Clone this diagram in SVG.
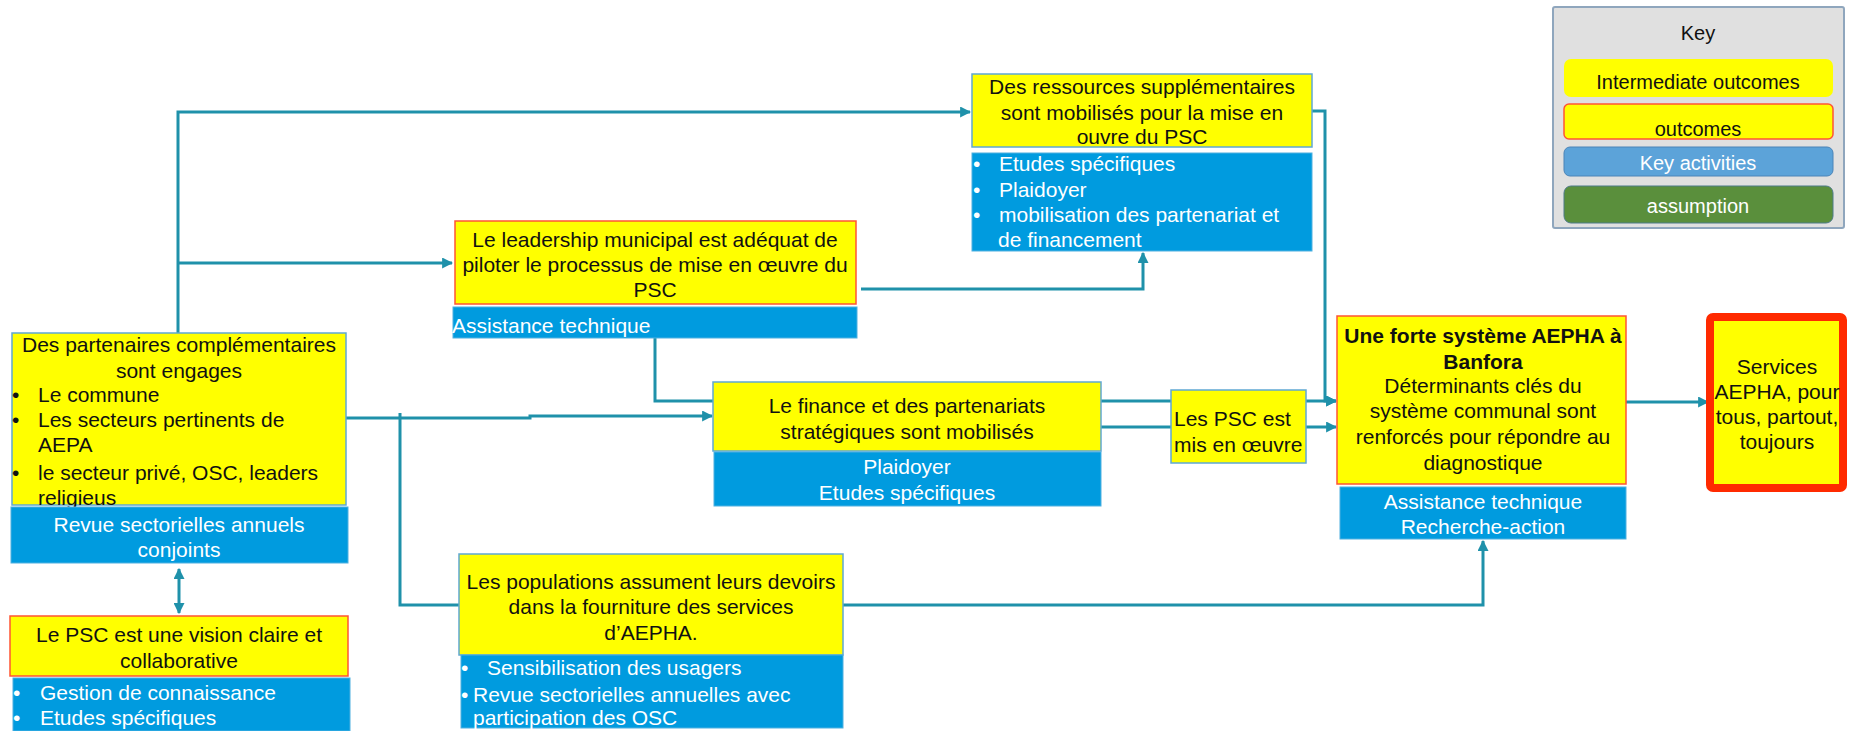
<svg xmlns="http://www.w3.org/2000/svg" width="1854" height="731" viewBox="0 0 1854 731">
<style>
text{font-family:"Liberation Sans",Arial,sans-serif;font-size:21px;fill:#111}
.c{text-anchor:middle}
.w{fill:#fff}
.b{font-weight:bold}
.y{fill:#ffff00;stroke:#5fa8d3;stroke-width:1.5}
.yr{fill:#ffff00;stroke:#ff5533;stroke-width:1.5}
.bl{fill:#009bdf;stroke:#4fb0e0;stroke-width:1}
.ln{fill:none;stroke:#1f91aa;stroke-width:3}
.k{font-size:20px}
</style>
<defs>
<marker id="ah" viewBox="0 0 10 10" refX="9" refY="5" markerWidth="11" markerHeight="11" markerUnits="userSpaceOnUse" orient="auto-start-reverse">
<path d="M0 0 L10 5 L0 10 z" fill="#1f91aa"/>
</marker>
</defs>
<rect width="1854" height="731" fill="#fff"/>
<g id="connectors">
<path class="ln" d="M178 333 V112 H970" marker-end="url(#ah)"/>
<path class="ln" d="M178 263 H452" marker-end="url(#ah)"/>
<path class="ln" d="M861 289 H1143 V253" marker-end="url(#ah)"/>
<path class="ln" d="M1312 111 H1325 V401 H1336" marker-end="url(#ah)"/>
<path class="ln" d="M346 418 H530 V416 H712" marker-end="url(#ah)"/>
<path class="ln" d="M400 413 V605 H459"/>
<path class="ln" d="M843 605 H1483 V541" marker-end="url(#ah)"/>
<path class="ln" d="M655 338 V401 H713"/>
<path class="ln" d="M1101 401 H1336" marker-end="url(#ah)"/>
<path class="ln" d="M1101 427 H1336" marker-end="url(#ah)"/>
<path class="ln" d="M1626 402 H1708" marker-end="url(#ah)"/>
<path class="ln" d="M179 569 V613" marker-start="url(#ah)" marker-end="url(#ah)"/>
</g>
<g id="partenaires">
<rect class="y" x="12" y="333" width="334" height="172"/>
<text class="c" x="179" y="352">Des partenaires complémentaires</text>
<text class="c" x="179" y="378">sont engages</text>
<text x="12" y="402">•</text><text x="38" y="402">Le commune</text>
<text x="12" y="427">•</text><text x="38" y="427">Les secteurs pertinents de</text>
<text x="38" y="452">AEPA</text>
<text x="12" y="480">•</text><text x="38" y="480">le secteur privé, OSC, leaders</text>
<text x="38" y="505">religieus</text>
<rect class="bl" x="11" y="507" width="337" height="56"/>
<text class="c w" x="179" y="532">Revue sectorielles annuels</text>
<text class="c w" x="179" y="557">conjoints</text>
</g>
<g id="psc-vision">
<rect class="yr" x="10" y="616" width="338" height="60"/>
<text class="c" x="179" y="642">Le PSC est une vision claire et</text>
<text class="c" x="179" y="668">collaborative</text>
<rect class="bl" x="13" y="678" width="337" height="53"/>
<text class="w" x="13" y="700">•</text><text class="w" x="40" y="700">Gestion de connaissance</text>
<text class="w" x="13" y="725">•</text><text class="w" x="40" y="725">Etudes spécifiques</text>
</g>
<g id="leadership">
<rect class="yr" x="455" y="221" width="401" height="83"/>
<text class="c" x="655" y="247">Le leadership municipal est adéquat de</text>
<text class="c" x="655" y="272">piloter le processus de mise en œuvre du</text>
<text class="c" x="655" y="297">PSC</text>
<rect class="bl" x="453" y="307" width="404" height="31"/>
<text class="w" x="452" y="333">Assistance technique</text>
</g>
<g id="ressources">
<rect class="y" x="972" y="74" width="340" height="73"/>
<text class="c" x="1142" y="94">Des ressources supplémentaires</text>
<text class="c" x="1142" y="120">sont mobilisés pour la mise en</text>
<text class="c" x="1142" y="144">ouvre du PSC</text>
<rect class="bl" x="972" y="153" width="340" height="98"/>
<text class="w" x="973" y="171">•</text><text class="w" x="999" y="171">Etudes spécifiques</text>
<text class="w" x="973" y="197">•</text><text class="w" x="999" y="197">Plaidoyer</text>
<text class="w" x="973" y="222">•</text><text class="w" x="999" y="222">mobilisation des partenariat et</text>
<text class="w" x="998" y="247">de financement</text>
</g>
<g id="finance">
<rect class="y" x="713" y="382" width="388" height="69"/>
<text class="c" x="907" y="413">Le finance et des partenariats</text>
<text class="c" x="907" y="439">stratégiques sont mobilisés</text>
<rect class="bl" x="714" y="452" width="387" height="54"/>
<text class="c w" x="907" y="474">Plaidoyer</text>
<text class="c w" x="907" y="500">Etudes spécifiques</text>
</g>
<g id="psc-oeuvre">
<rect class="y" x="1171" y="390" width="135" height="73"/>
<text x="1174" y="426">Les PSC est</text>
<text x="1174" y="452">mis en œuvre</text>
</g>
<g id="populations">
<rect class="y" x="459" y="554" width="384" height="101"/>
<text class="c" x="651" y="589">Les populations assument leurs devoirs</text>
<text class="c" x="651" y="614">dans la fourniture des services</text>
<text class="c" x="651" y="640">d’AEPHA.</text>
<rect class="bl" x="461" y="655" width="382" height="73"/>
<text class="w" x="461" y="675">•</text><text class="w" x="487" y="675">Sensibilisation des usagers</text>
<text class="w" x="461" y="702">•</text><text class="w" x="473" y="702">Revue sectorielles annuelles avec</text>
<text class="w" x="473" y="725">participation des OSC</text>
</g>
<g id="aepha">
<rect class="yr" x="1337" y="316" width="289" height="168"/>
<text class="c b" x="1483" y="343">Une forte système AEPHA à</text>
<text class="c b" x="1483" y="369">Banfora</text>
<text class="c" x="1483" y="393">Déterminants clés du</text>
<text class="c" x="1483" y="418">système communal sont</text>
<text class="c" x="1483" y="444">renforcés pour répondre au</text>
<text class="c" x="1483" y="470">diagnostique</text>
<rect class="bl" x="1340" y="487" width="286" height="52"/>
<text class="c w" x="1483" y="509">Assistance technique</text>
<text class="c w" x="1483" y="534">Recherche-action</text>
</g>
<g id="services">
<rect x="1710" y="317" width="133" height="171" rx="3" fill="#ffff00" stroke="#ff2a00" stroke-width="8"/>
<text class="c" x="1777" y="374">Services</text>
<text class="c" x="1777" y="399">AEPHA, pour</text>
<text class="c" x="1777" y="424">tous, partout,</text>
<text class="c" x="1777" y="449">toujours</text>
</g>
<g id="key">
<rect x="1553" y="7" width="291" height="221" fill="#e0e0e0" stroke="#8fa6bd" stroke-width="2" rx="2"/>
<text class="c k" x="1698" y="40">Key</text>
<rect x="1564" y="59" width="269" height="38" rx="7" fill="#ffff00"/>
<text class="c k" x="1698" y="89">Intermediate outcomes</text>
<rect x="1564" y="104" width="269" height="35" rx="5" fill="#ffff00" stroke="#ff5533" stroke-width="1.5"/>
<text class="c k" x="1698" y="136">outcomes</text>
<rect x="1564" y="147" width="269" height="29" rx="6" fill="#5ca3d9" stroke="#4a84b8" stroke-width="1"/>
<text class="c k w" x="1698" y="170">Key activities</text>
<rect x="1564" y="186" width="269" height="37" rx="7" fill="#5a8f3c" stroke="#4d7a88" stroke-width="1"/>
<text class="c k w" x="1698" y="213">assumption</text>
</g>
</svg>
